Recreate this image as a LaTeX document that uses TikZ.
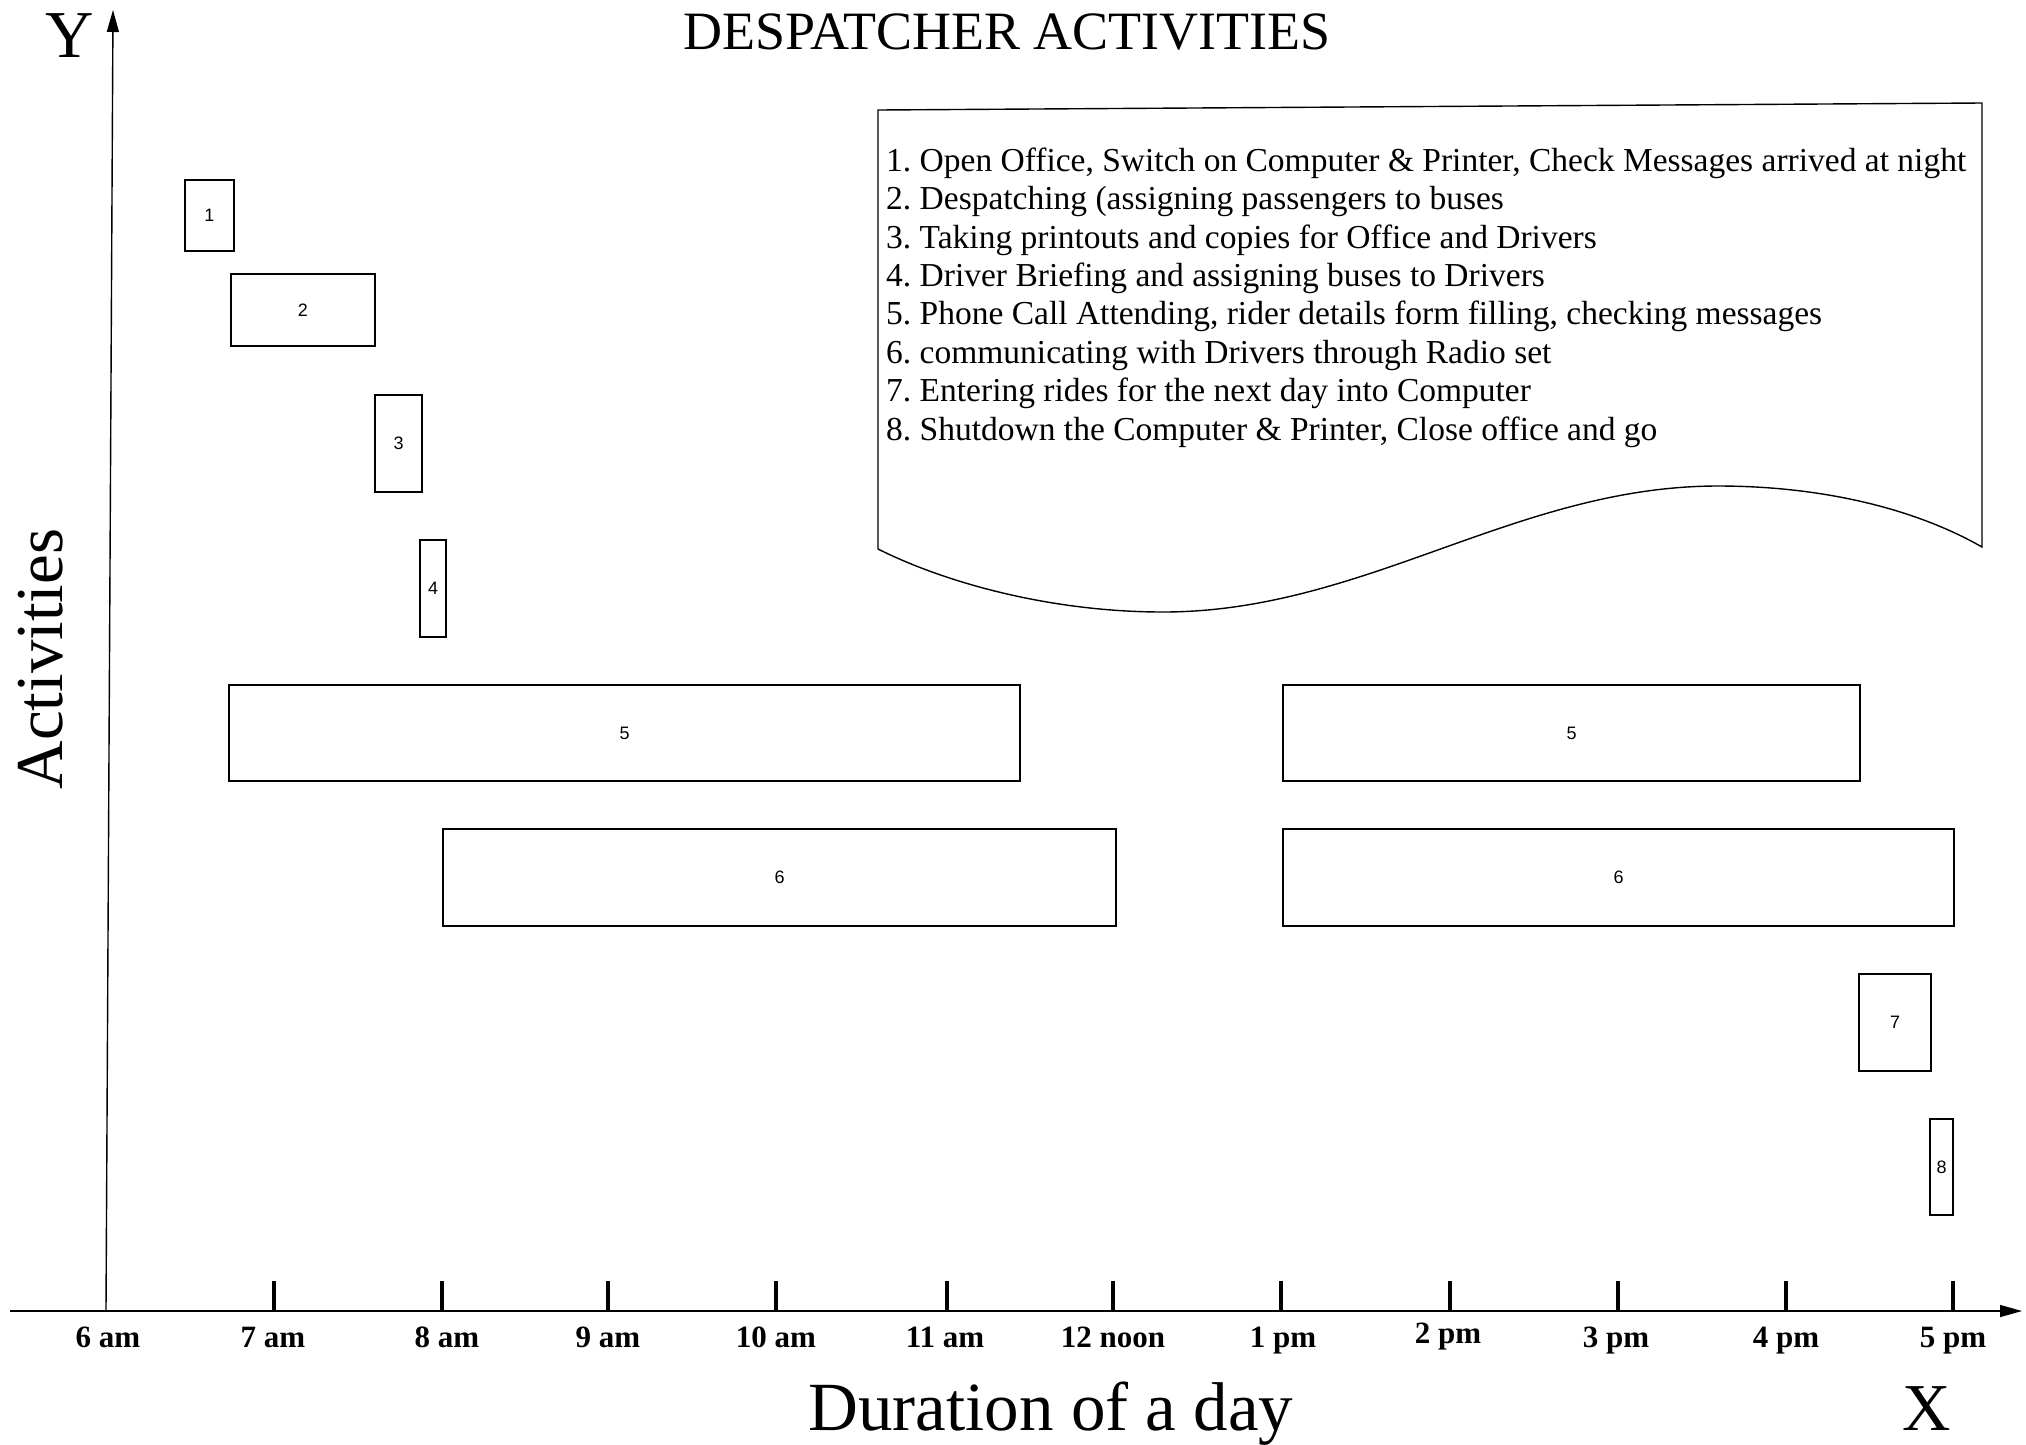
\documentclass[tikz,border=0pt]{standalone}
\usepackage{fontspec}
\setmainfont{Liberation Serif}
\newfontfamily\boxfont{Liberation Sans}
\usetikzlibrary{arrows.meta}
\begin{document}
\begin{tikzpicture}[x=1pt,y=-1pt,
  actbox/.style={draw,line width=1.4pt,inner sep=0pt,font=\boxfont\fontsize{18}{20}\selectfont},
  tickmark/.style={line width=3.2pt},
  ticklabel/.style={anchor=base,inner sep=0pt,font=\bfseries\fontsize{31}{34}\selectfont},
  axisline/.style={line width=1.4pt},
  biglabel/.style={anchor=base,inner sep=0pt,font=\fontsize{67}{70}\selectfont},
  axistip/.style={-{Triangle[length=22pt,width=12pt]}},
]
\useasboundingbox[fill=white] (0,0) rectangle (2026,1444);

% title and axis names
\node[anchor=base,inner sep=0pt,font=\fontsize{54}{58}\selectfont] (title) at (1007,49) {DESPATCHER ACTIVITIES};
\node[biglabel] (ylab) at (70,57) {Y};
\node[biglabel] (xlab) at (1927,1430) {X};
\node[biglabel,font=\fontsize{69}{72}\selectfont] (dur) at (1051,1430) {Duration of a day};
\node[biglabel,rotate=90] (act) at (62,659) {Activities};

% axes
\coordinate (origin) at (106,1311);
\coordinate (ytop) at (113,10);
\coordinate (xleft) at (10,1311);
\coordinate (xtip) at (2022,1311);
\draw[axisline,axistip] (origin) -- (ytop);
\draw[axisline,axistip] (xleft) -- (xtip);

% ticks
\foreach \x in {274,442,608,776,947,1113,1281,1450,1618,1786,1953}
  \draw[tickmark] (\x,1311) -- (\x,1281);

% tick labels
\node[ticklabel] (t6)  at (108,1347) {6 am};
\node[ticklabel] (t7)  at (273,1347) {7 am};
\node[ticklabel] (t8)  at (447,1347) {8 am};
\node[ticklabel] (t9)  at (608,1347) {9 am};
\node[ticklabel] (t10) at (776,1347) {10 am};
\node[ticklabel] (t11) at (945,1347) {11 am};
\node[ticklabel] (t12) at (1113,1347) {12 noon};
\node[ticklabel] (t13) at (1283,1347) {1 pm};
\node[ticklabel] (t14) at (1448,1343) {2 pm};
\node[ticklabel] (t15) at (1616,1347) {3 pm};
\node[ticklabel] (t16) at (1786,1347) {4 pm};
\node[ticklabel] (t17) at (1953,1347) {5 pm};

% activity boxes
\node[actbox,minimum width=49pt,minimum height=71pt] (b1) at (209.5,215.5) {1};
\node[actbox,minimum width=144pt,minimum height=72pt] (b2) at (303,310) {2};
\node[actbox,minimum width=47pt,minimum height=97pt] (b3) at (398.5,443.5) {3};
\node[actbox,minimum width=26pt,minimum height=97pt] (b4) at (433,588.5) {4};
\node[actbox,minimum width=791pt,minimum height=96pt] (b5a) at (624.5,733) {5};
\node[actbox,minimum width=577pt,minimum height=96pt] (b5b) at (1571.5,733) {5};
\node[actbox,minimum width=673pt,minimum height=97pt] (b6a) at (779.5,877.5) {6};
\node[actbox,minimum width=671pt,minimum height=97pt] (b6b) at (1618.5,877.5) {6};
\node[actbox,minimum width=72pt,minimum height=97pt] (b7) at (1895,1022.5) {7};
\node[actbox,minimum width=23pt,minimum height=96pt] (b8) at (1941.5,1167) {8};

% document shape
\coordinate (dTL) at (878,110);
\coordinate (dTR) at (1982,103);
\coordinate (dBR) at (1982,547);
\coordinate (dBL) at (878,549);
\coordinate (wmax) at (1718,486);
\coordinate (wmin) at (1163,612);
\draw[line width=1.4pt] (dBL) -- (dTL) -- (dTR) -- (dBR)
  .. controls (1912,507) and (1818,486) .. (wmax)
  .. controls (1516,486) and (1365,612) .. (wmin)
  .. controls (1053,612) and (948,584) .. (dBL);

\node[anchor=north west,inner sep=0pt,align=left,font=\fontsize{33.5}{38.4}\selectfont\frenchspacing] (legend) at (886,147.5) {%
1. Open Office, Switch on Computer \& Printer, Check Messages arrived at night\\
2. Despatching (assigning passengers to buses\\
3. Taking printouts and copies for Office and Drivers\\
4. Driver Briefing and assigning buses to Drivers\\
5. Phone Call Attending, rider details form filling, checking messages\\
6. communicating with Drivers through Radio set\\
7. Entering rides for the next day into Computer\\
8. Shutdown the Computer \& Printer, Close office and go};
\end{tikzpicture}
\end{document}
